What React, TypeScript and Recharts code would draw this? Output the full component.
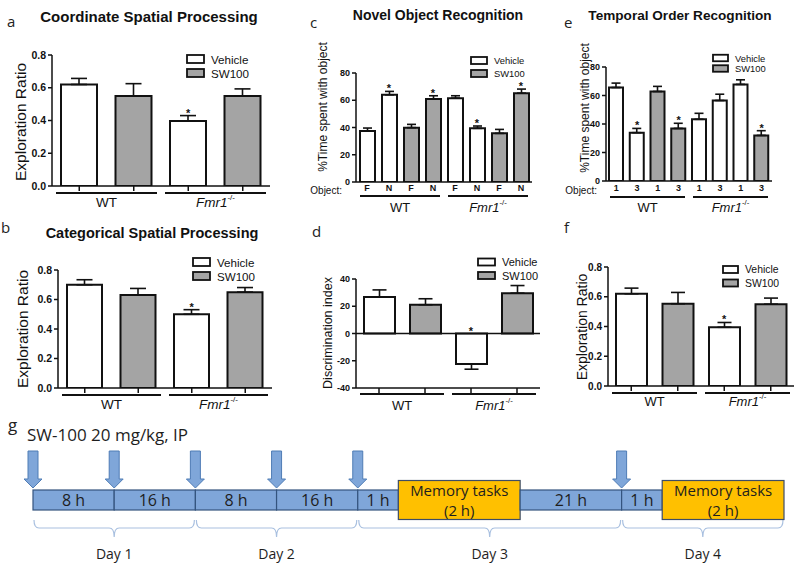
import React from 'react';
import {
  ComposedChart,
  Bar,
  Scatter,
  XAxis,
  YAxis,
  Cell,
  ErrorBar,
  ReferenceLine,
  ReferenceArea,
} from 'recharts';

const SANS = 'Arial, "Liberation Sans", Helvetica, sans-serif';
const SOFT = '"Open Sans", "Noto Sans", "DejaVu Sans", sans-serif';
const INK = '#111111';
const VEHICLE_FILL = '#ffffff';
const SW100_FILL = '#a4a4a4';
const WAIT_FILL = '#7fa6d9';
const TASK_FILL = '#ffc000';

// ---- shared categories ----
const treatments = ['Vehicle', 'SW100'];
const pairTreatment = ['Vehicle', 'SW100', 'Vehicle', 'SW100'];
const pairGenotype = ['WT', 'WT', 'Fmr1', 'Fmr1'];
const octGenotype = ['WT', 'WT', 'WT', 'WT', 'Fmr1', 'Fmr1', 'Fmr1', 'Fmr1'];

// a: coordinate spatial processing
const coordMean = [0.62, 0.55, 0.397, 0.55];
const coordSem = [0.037, 0.075, 0.033, 0.043];
const coordSig = [false, false, true, false];

// b: categorical spatial processing
const categMean = [0.7, 0.63, 0.5, 0.65];
const categSem = [0.034, 0.045, 0.031, 0.031];
const categSig = [false, false, true, false];

// c: novel object recognition
const norObject = ['F', 'N', 'F', 'N', 'F', 'N', 'F', 'N'];
const norTreatment = ['Vehicle', 'Vehicle', 'SW100', 'SW100', 'Vehicle', 'Vehicle', 'SW100', 'SW100'];
const norMean = [37.4, 64, 39.9, 61, 61.5, 39.4, 35.7, 65.2];
const norSem = [2.2, 2.5, 2.4, 2.3, 1.8, 1.7, 2.9, 3.0];
const norSig = [false, true, false, true, false, true, false, true];

// d: discrimination index
const discMean = [26.7, 21.1, -22.3, 29.6];
const discSem = [5.3, 4.4, 3.9, 5.6];
const discSig = [false, false, true, false];

// e: temporal order recognition
const toObject = ['1', '3', '1', '3', '1', '3', '1', '3'];
const toTreatment = ['Vehicle', 'Vehicle', 'SW100', 'SW100', 'Vehicle', 'Vehicle', 'Vehicle', 'SW100'];
const toMean = [65.6, 33.9, 62.8, 36.9, 43.3, 56.5, 67.8, 32.0];
const toSem = [3.1, 3.0, 3.6, 3.6, 4.2, 4.4, 3.2, 3.3];
const toSig = [false, true, false, true, false, false, false, true];

// f: exploration ratio
const fMean = [0.62, 0.553, 0.395, 0.55];
const fSem = [0.038, 0.076, 0.032, 0.041];
const fSig = [false, false, true, false];

// g: dosing timeline (schematic widths, not hours)
const segLabels = ['8 h', '16 h', '8 h', '16 h', '1 h', 'Memory tasks\n(2 h)', '21 h', '1 h', 'Memory tasks\n(2 h)'];
const segSpans = [8, 8, 8, 8, 4, 12, 10, 4, 12];
const segIsTask = [false, false, false, false, false, true, false, false, true];
const dosePositions = [0, 8, 16, 24, 32, 58];
const dayLabels = ['Day 1', 'Day 2', 'Day 3', 'Day 4'];
const dayStarts = [0, 16, 32, 58];
const dayEnds = [16, 32, 58, 74];

type Row = {
  key: string;
  obj: string;
  group: string;
  mean: number;
  err: [number, number];
  star: number;
  sig: boolean;
  fill: string;
};

function buildRows(mean: number[], sem: number[], sig: boolean[], treat: string[], geno: string[], obj?: string[]): Row[] {
  return mean.map((m, i) => ({
    key: 'bar' + i,
    obj: obj ? obj[i] : '',
    group: geno[i],
    mean: m,
    err: m < 0 ? [sem[i], 0] : [0, sem[i]],
    star: m < 0 ? 0 : m + sem[i],
    sig: sig[i],
    fill: treat[i] === 'Vehicle' ? VEHICLE_FILL : SW100_FILL,
  }));
}

const rowsA = buildRows(coordMean, coordSem, coordSig, pairTreatment, pairGenotype);
const rowsB = buildRows(categMean, categSem, categSig, pairTreatment, pairGenotype);
const rowsC = buildRows(norMean, norSem, norSig, norTreatment, octGenotype, norObject);
const rowsD = buildRows(discMean, discSem, discSig, pairTreatment, pairGenotype);
const rowsE = buildRows(toMean, toSem, toSig, toTreatment, octGenotype, toObject);
const rowsF = buildRows(fMean, fSem, fSig, pairTreatment, pairGenotype);

type PanelCfg = {
  x0: number; y0: number; w: number; h: number;
  left: number; top: number; right: number; bottom: number;
  catH: number; grpH: number;
  domain: [number, number]; ticks: number[]; decimals: number; tickFont: number;
  barSize: number; capHalf: number;
  yLabel: string; yLabelX: number; yLabelY: number; yLabelFont: number;
  underlineY: number; groupTextY: number; groupFont: number;
  objY?: number; zeroLine?: boolean;
};

const StarShape = (p: any) =>
  p.payload && p.payload.sig ? (
    <text x={p.cx} y={p.cy + 1} textAnchor="middle" fontSize={11} fontWeight="bold" fontFamily={SANS} fill={INK}>*</text>
  ) : (
    <g />
  );

function GroupTick({ x, value, half, lineY, textY, font }: any) {
  return (
    <g>
      <line x1={x - half} x2={x + half} y1={lineY} y2={lineY} stroke={INK} strokeWidth={2} />
      {value === 'WT' ? (
        <text x={x} y={textY} textAnchor="middle" dominantBaseline="central" fontSize={font} fontFamily={SANS} fill={INK}>WT</text>
      ) : (
        <text x={x} y={textY} textAnchor="middle" dominantBaseline="central" fontSize={font} fontFamily={SANS} fill={INK}>
          <tspan fontStyle="italic">Fmr1</tspan>
          <tspan fontSize={font * 0.6} dy={-5}>-/-</tspan>
        </text>
      )}
    </g>
  );
}

function BarPanel({ cfg, rows }: { cfg: PanelCfg; rows: Row[] }) {
  const { x0, y0, w, h, left, top, right, bottom, catH, grpH } = cfg;
  const margin = { top: top - y0, right: x0 + w - right, bottom: y0 + h - bottom - catH - grpH, left: 0 };
  const half = (right - left) / 4 - 4;
  const showObj = cfg.objY !== undefined;
  return (
    <div style={{ position: 'absolute', left: x0, top: y0 }}>
      <ComposedChart width={w} height={h} data={rows} margin={margin}>
        <XAxis
          dataKey="key"
          height={catH}
          interval={0}
          axisLine={{ stroke: INK, strokeWidth: 1.5 }}
          tickLine={showObj ? false : { stroke: INK, strokeWidth: 1.5 }}
          tickSize={showObj ? 0 : 5}
          tick={(p: any) =>
            showObj ? (
              <text x={p.x} y={(cfg.objY as number) - y0} textAnchor="middle" dominantBaseline="central" fontSize={9} fontWeight="bold" fontFamily={SANS} fill={INK}>
                {rows[p.index] ? rows[p.index].obj : ''}
              </text>
            ) : (
              <g />
            )
          }
        />
        <XAxis
          xAxisId="grp"
          dataKey="group"
          allowDuplicatedCategory={false}
          height={grpH}
          interval={0}
          axisLine={false}
          tickLine={false}
          tickSize={0}
          tick={(p: any) => (
            <GroupTick x={p.x} value={p.payload.value} half={half} lineY={cfg.underlineY - y0} textY={cfg.groupTextY - y0} font={cfg.groupFont} />
          )}
        />
        <YAxis
          domain={cfg.domain}
          ticks={cfg.ticks}
          interval={0}
          width={left - x0}
          allowDataOverflow
          axisLine={{ stroke: INK, strokeWidth: 1.5 }}
          tickLine={{ stroke: INK, strokeWidth: 1.5 }}
          tickSize={4}
          tickMargin={2}
          tick={{ fontSize: cfg.tickFont, fontWeight: 'bold', fill: INK, fontFamily: SANS }}
          tickFormatter={(v: number) => v.toFixed(cfg.decimals)}
          label={() => (
            <text
              x={cfg.yLabelX - x0}
              y={cfg.yLabelY - y0}
              transform={`rotate(-90, ${cfg.yLabelX - x0}, ${cfg.yLabelY - y0})`}
              textAnchor="middle"
              dominantBaseline="central"
              fontSize={cfg.yLabelFont}
              fontFamily={SANS}
              fill={INK}
            >
              {cfg.yLabel}
            </text>
          )}
        />
        {cfg.zeroLine && <ReferenceLine y={0} stroke={INK} strokeWidth={1.3} />}
        <Bar dataKey="mean" barSize={cfg.barSize} isAnimationActive={false}>
          {rows.map((r) => (
            <Cell key={r.key} fill={r.fill} stroke={INK} strokeWidth={2} />
          ))}
          <ErrorBar dataKey="err" width={cfg.capHalf} stroke={INK} strokeWidth={1.6} direction="y" isAnimationActive={false} />
        </Bar>
        <Scatter dataKey="star" shape={StarShape} isAnimationActive={false} />
      </ComposedChart>
    </div>
  );
}

const cfgA: PanelCfg = {
  x0: 0, y0: 40, w: 280, h: 180, left: 52, top: 55, right: 270, bottom: 186, catH: 7, grpH: 24,
  domain: [0, 0.8], ticks: [0, 0.2, 0.4, 0.6, 0.8], decimals: 1, tickFont: 10.5,
  barSize: 36, capHalf: 8, yLabel: 'Exploration Ratio', yLabelX: 20, yLabelY: 122, yLabelFont: 15.5,
  underlineY: 193, groupTextY: 202, groupFont: 13.5,
};
const cfgB: PanelCfg = {
  x0: 0, y0: 250, w: 280, h: 170, left: 58, top: 270, right: 272, bottom: 388, catH: 7, grpH: 22,
  domain: [0, 0.8], ticks: [0, 0.2, 0.4, 0.6, 0.8], decimals: 1, tickFont: 10.5,
  barSize: 35, capHalf: 8, yLabel: 'Exploration Ratio', yLabelX: 22, yLabelY: 329, yLabelFont: 15.5,
  underlineY: 395, groupTextY: 404, groupFont: 13.5,
};
const cfgC: PanelCfg = {
  x0: 300, y0: 40, w: 240, h: 180, left: 356, top: 73, right: 532, bottom: 182, catH: 10, grpH: 24,
  domain: [0, 80], ticks: [0, 20, 40, 60, 80], decimals: 0, tickFont: 9,
  barSize: 15, capHalf: 4.5, yLabel: '%Time spent with object', yLabelX: 323, yLabelY: 107, yLabelFont: 12,
  underlineY: 196, groupTextY: 207, groupFont: 13, objY: 188,
};
const cfgD: PanelCfg = {
  x0: 300, y0: 255, w: 245, h: 165, left: 356, top: 279, right: 540, bottom: 388, catH: 7, grpH: 22,
  domain: [-40, 40], ticks: [-40, -20, 0, 20, 40], decimals: 0, tickFont: 9,
  barSize: 31, capHalf: 7, yLabel: 'Discrimination index', yLabelX: 328, yLabelY: 333, yLabelFont: 12.5,
  underlineY: 394, groupTextY: 405, groupFont: 13, zeroLine: true,
};
const cfgE: PanelCfg = {
  x0: 550, y0: 40, w: 240, h: 180, left: 606, top: 67, right: 772, bottom: 181, catH: 10, grpH: 24,
  domain: [0, 80], ticks: [0, 20, 40, 60, 80], decimals: 0, tickFont: 9,
  barSize: 14, capHalf: 4.5, yLabel: '%Time spent with object', yLabelX: 585, yLabelY: 108, yLabelFont: 12,
  underlineY: 197, groupTextY: 207, groupFont: 13, objY: 188,
};
const cfgF: PanelCfg = {
  x0: 555, y0: 250, w: 245, h: 170, left: 608, top: 267, right: 794, bottom: 386, catH: 7, grpH: 22,
  domain: [0, 0.8], ticks: [0, 0.2, 0.4, 0.6, 0.8], decimals: 1, tickFont: 10,
  barSize: 31, capHalf: 7, yLabel: 'Exploration Ratio', yLabelX: 582, yLabelY: 327, yLabelFont: 14,
  underlineY: 393, groupTextY: 401, groupFont: 13,
};

function LegendBlock({ x, y, gap, boxW, boxH, font }: any) {
  return (
    <g>
      {treatments.map((t, i) => (
        <g key={t}>
          <rect x={x} y={y + i * gap - boxH / 2} width={boxW} height={boxH} fill={i === 0 ? VEHICLE_FILL : SW100_FILL} stroke={INK} strokeWidth={1.8} />
          <text x={x + boxW + 7} y={y + i * gap} dominantBaseline="central" fontSize={font} fontFamily={SANS} fill={INK}>{t}</text>
        </g>
      ))}
    </g>
  );
}

// ---- timeline (panel g) ----
const timelineRow = [segSpans.reduce((acc: any, s, i) => ({ ...acc, ['s' + i]: s }), { lane: 'dose' })];

const renderSegment = (i: number) => (p: any) => {
  const task = segIsTask[i];
  const cy = p.y + p.height / 2;
  const hh = task ? 39 : p.height;
  const lines = segLabels[i].split('\n');
  return (
    <g>
      <rect x={p.x} y={cy - hh / 2} width={p.width} height={hh} fill={task ? TASK_FILL : WAIT_FILL} stroke={task ? '#3e4d66' : '#34547e'} strokeWidth={1.2} />
      {lines.map((t, k) => (
        <text key={k} x={p.x + p.width / 2} y={cy + (k - (lines.length - 1) / 2) * 20} textAnchor="middle" dominantBaseline="central" fontSize={lines.length > 1 ? 15 : 16} fontFamily={SOFT} fill="#1e1e1e">
          {t}
        </text>
      ))}
    </g>
  );
};

const DoseArrow = (p: any) => {
  const x = p.x1;
  const cy = (p.y1 + p.y2) / 2;
  const top = cy - 49;
  const neck = cy - 21;
  const tip = cy - 12;
  return (
    <polygon
      points={`${x - 5},${top} ${x + 5},${top} ${x + 5},${neck} ${x + 9},${neck} ${x},${tip} ${x - 9},${neck} ${x - 5},${neck}`}
      fill={WAIT_FILL}
      stroke="#4f7cb5"
      strokeWidth={1}
    />
  );
};

const renderBrace = (i: number) => (p: any) => {
  const x1 = p.x + 1;
  const x2 = p.x + p.width - 1;
  const cx = (x1 + x2) / 2;
  const cy = p.y + p.height / 2;
  const ly = cy + 28;
  const d = `M ${x1} ${cy + 20} Q ${x1} ${ly} ${x1 + 5} ${ly} L ${cx - 5} ${ly} Q ${cx} ${ly} ${cx} ${ly + 9} Q ${cx} ${ly} ${cx + 5} ${ly} L ${x2 - 5} ${ly} Q ${x2} ${ly} ${x2} ${cy + 20}`;
  return (
    <g>
      <path d={d} fill="none" stroke="#a9c0e0" strokeWidth={1.2} />
      <text x={cx} y={cy + 53} textAnchor="middle" dominantBaseline="central" fontSize={14} fontFamily={SOFT} fill="#1e1e1e">
        {dayLabels[i]}
      </text>
    </g>
  );
};

function Timeline() {
  return (
    <div style={{ position: 'absolute', left: 0, top: 430 }}>
      <ComposedChart width={800} height={142} layout="vertical" data={timelineRow} margin={{ top: 10, right: 16, bottom: 12, left: 33 }}>
        <XAxis type="number" domain={[0, 74]} hide />
        <YAxis type="category" dataKey="lane" hide />
        {segSpans.map((_, i) => (
          <Bar key={'s' + i} dataKey={'s' + i} stackId="tl" barSize={20} isAnimationActive={false} shape={renderSegment(i)} />
        ))}
        {dosePositions.map((pos) => (
          <ReferenceLine key={'dose' + pos} x={pos} shape={DoseArrow} ifOverflow="visible" />
        ))}
        {dayStarts.map((s, i) => (
          <ReferenceArea key={'day' + i} x1={s} x2={dayEnds[i]} shape={renderBrace(i)} ifOverflow="visible" />
        ))}
      </ComposedChart>
    </div>
  );
}

const titleStyle = { fontFamily: SANS, fontWeight: 'bold' as const, fill: INK };
const letterStyle = { fontFamily: SOFT, fontSize: 15, fill: '#222' };

export default function App() {
  return (
    <div style={{ position: 'absolute', left: 0, top: 0, width: 800, height: 572, background: '#fff', overflow: 'hidden' }}>
      <BarPanel cfg={cfgA} rows={rowsA} />
      <BarPanel cfg={cfgB} rows={rowsB} />
      <BarPanel cfg={cfgC} rows={rowsC} />
      <BarPanel cfg={cfgD} rows={rowsD} />
      <BarPanel cfg={cfgE} rows={rowsE} />
      <BarPanel cfg={cfgF} rows={rowsF} />
      <Timeline />
      <svg width={800} height={572} style={{ position: 'absolute', left: 0, top: 0, pointerEvents: 'none' }}>
        <text x={149} y={16} textAnchor="middle" dominantBaseline="central" fontSize={15} {...titleStyle}>Coordinate Spatial Processing</text>
        <text x={152} y={233} textAnchor="middle" dominantBaseline="central" fontSize={14.5} {...titleStyle}>Categorical Spatial Processing</text>
        <text x={438} y={15} textAnchor="middle" dominantBaseline="central" fontSize={14} {...titleStyle}>Novel Object Recognition</text>
        <text x={680} y={15} textAnchor="middle" dominantBaseline="central" fontSize={13.6} {...titleStyle}>Temporal Order Recognition</text>

        <text x={7} y={27} {...letterStyle}>a</text>
        <text x={1} y={233} {...letterStyle}>b</text>
        <text x={310} y={28} {...letterStyle}>c</text>
        <text x={312} y={237} {...letterStyle}>d</text>
        <text x={564} y={28} {...letterStyle}>e</text>
        <text x={564} y={233} {...letterStyle}>f</text>
        <text x={8} y={431} {...letterStyle} fontSize={17}>g</text>

        <text x={342} y={190} textAnchor="end" dominantBaseline="central" fontSize={10} fontFamily={SANS} fill={INK}>Object:</text>
        <text x={597} y={190} textAnchor="end" dominantBaseline="central" fontSize={10} fontFamily={SANS} fill={INK}>Object:</text>

        <LegendBlock x={187} y={59} gap={14} boxW={17} boxH={8} font={11.6} />
        <LegendBlock x={193} y={262} gap={14} boxW={17} boxH={8} font={11.6} />
        <LegendBlock x={471} y={60.5} gap={13} boxW={16} boxH={7} font={9.4} />
        <LegendBlock x={478} y={262} gap={13.5} boxW={17} boxH={7} font={11} />
        <LegendBlock x={713} y={58} gap={10.5} boxW={15} boxH={6.5} font={9.4} />
        <LegendBlock x={723} y={269.5} gap={13.5} boxW={15} boxH={7} font={10.4} />

        <text x={27} y={441} fontSize={17} fontFamily={SOFT} fill="#1e1e1e">SW-100 20 mg/kg, IP</text>
      </svg>
    </div>
  );
}
